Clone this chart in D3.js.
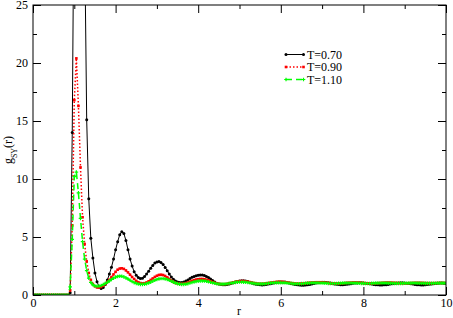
<!DOCTYPE html>
<html>
<head>
<meta charset="utf-8">
<script src="https://cdn.jsdelivr.net/npm/d3@7"></script>
<style>
  body { margin: 0; background: #fff; }
  svg { display: block; font-family: "Liberation Serif", "Times New Roman", serif; }
</style>
</head>
<body>
<svg id="chart" width="453" height="318"></svg>
<script>
// Data: g_SY(r) sampled every 0.05 from r = 0 to r = 10
const rStep = 0.05;

const gT070 = [
  0, 0, 0, 0, 0, 0, 0, 0, 0, 0,
  0, 0, 0, 0, 0, 0, 0, 0, 0.2, 14,
  38, 47, 48, 45, 39, 31, 15.1, 8.3, 4.9, 3.2,
  1.9, 1.15, 0.7, 0.55, 0.65, 0.9, 1.3, 1.8, 2.4, 3.1,
  3.9, 4.6, 5.2, 5.45, 5.3, 4.7, 3.9, 3.1, 2.5, 2.0,
  1.7, 1.5, 1.42, 1.45, 1.6, 1.8, 2.05, 2.3, 2.55, 2.75,
  2.85, 2.88, 2.8, 2.62, 2.38, 2.1, 1.8, 1.55, 1.35, 1.2,
  1.12, 1.08, 1.08, 1.12, 1.2, 1.3, 1.42, 1.52, 1.6, 1.66,
  1.7, 1.72, 1.72, 1.68, 1.6, 1.5, 1.38, 1.25, 1.12, 1.02,
  0.95, 0.9, 0.88, 0.88, 0.9, 0.95, 1.0, 1.06, 1.12, 1.17,
  1.2, 1.22, 1.22, 1.2, 1.16, 1.1, 1.04, 0.98, 0.93, 0.9,
  0.88, 0.87, 0.88, 0.9, 0.94, 0.98, 1.02, 1.06, 1.09, 1.11,
  1.12, 1.12, 1.11, 1.08, 1.04, 1.0, 0.95, 0.91, 0.88, 0.86,
  0.85, 0.85, 0.86, 0.88, 0.91, 0.95, 0.99, 1.03, 1.06, 1.08,
  1.09, 1.09, 1.08, 1.06, 1.03, 0.99, 0.95, 0.92, 0.9, 0.89,
  0.89, 0.9, 0.92, 0.95, 0.98, 1.01, 1.03, 1.04, 1.05, 1.05,
  1.04, 1.02, 1.0, 0.97, 0.94, 0.91, 0.89, 0.88, 0.87, 0.87,
  0.88, 0.89, 0.91, 0.94, 0.97, 1.0, 1.02, 1.04, 1.05, 1.05,
  1.04, 1.02, 1.0, 0.97, 0.94, 0.91, 0.89, 0.88, 0.87, 0.87,
  0.88, 0.9, 0.92, 0.95, 0.98, 1.0, 1.02, 1.03, 1.03, 1.02,
  1.0
];

const gT090 = [
  0, 0, 0, 0, 0, 0, 0, 0, 0, 0,
  0, 0, 0, 0, 0, 0, 0, 0, 0.4, 6,
  16.8, 20.4, 16.3, 11, 6.7, 4.4, 2.9, 1.9, 1.3, 0.95,
  0.75, 0.65, 0.65, 0.7, 0.8, 0.95, 1.12, 1.32, 1.55, 1.78,
  2.0, 2.18, 2.28, 2.3, 2.25, 2.12, 1.95, 1.75, 1.55, 1.38,
  1.22, 1.1, 1.03, 1.0, 1.02, 1.08, 1.18, 1.3, 1.43, 1.56,
  1.66, 1.73, 1.75, 1.72, 1.64, 1.52, 1.38, 1.25, 1.13, 1.04,
  0.99, 0.96, 0.96, 0.98, 1.02, 1.08, 1.15, 1.22, 1.28, 1.33,
  1.36, 1.38, 1.38, 1.36, 1.32, 1.26, 1.19, 1.12, 1.05, 1.0,
  0.96, 0.94, 0.93, 0.94, 0.96, 1.0, 1.04, 1.09, 1.13, 1.17,
  1.19, 1.2, 1.2, 1.18, 1.15, 1.11, 1.07, 1.03, 1.0, 0.98,
  0.97, 0.97, 0.98, 1.0, 1.03, 1.06, 1.09, 1.11, 1.13, 1.14,
  1.14, 1.13, 1.11, 1.09, 1.06, 1.03, 1.01, 0.99, 0.98, 0.98,
  0.99, 1.0, 1.02, 1.04, 1.06, 1.08, 1.09, 1.1, 1.1, 1.1,
  1.09, 1.08, 1.06, 1.04, 1.02, 1.01, 1.0, 0.99, 0.99, 1.0,
  1.01, 1.03, 1.05, 1.06, 1.07, 1.08, 1.08, 1.07, 1.06, 1.05,
  1.04, 1.02, 1.01, 1.0, 1.0, 1.0, 1.01, 1.02, 1.03, 1.05,
  1.06, 1.07, 1.07, 1.07, 1.06, 1.05, 1.04, 1.03, 1.02, 1.01,
  1.01, 1.01, 1.02, 1.03, 1.04, 1.05, 1.05, 1.05, 1.05, 1.04,
  1.03, 1.02, 1.02, 1.02, 1.02, 1.03, 1.03, 1.04, 1.04, 1.04,
  1.03
];

const gT110 = [
  0, 0, 0, 0, 0, 0, 0, 0, 0, 0,
  0, 0, 0, 0, 0, 0, 0, 0, 0.7, 4.8,
  10.2, 10.6, 8.8, 6.6, 4.6, 3.1, 2.1, 1.45, 1.08, 0.88,
  0.78, 0.75, 0.77, 0.82, 0.9, 1.0, 1.1, 1.22, 1.34, 1.45,
  1.54, 1.6, 1.62, 1.61, 1.56, 1.48, 1.38, 1.27, 1.16, 1.07,
  1.0, 0.95, 0.92, 0.92, 0.94, 0.98, 1.04, 1.11, 1.19, 1.27,
  1.34, 1.39, 1.42, 1.42, 1.39, 1.34, 1.27, 1.19, 1.11, 1.04,
  0.98, 0.94, 0.92, 0.92, 0.94, 0.98, 1.03, 1.08, 1.13, 1.17,
  1.2, 1.22, 1.22, 1.21, 1.18, 1.14, 1.1, 1.05, 1.01, 0.97,
  0.95, 0.94, 0.94, 0.95, 0.97, 1.0, 1.03, 1.06, 1.09, 1.11,
  1.12, 1.12, 1.11, 1.1, 1.08, 1.05, 1.02, 1.0, 0.98, 0.96,
  0.96, 0.96, 0.97, 0.99, 1.01, 1.03, 1.05, 1.06, 1.07, 1.07,
  1.07, 1.06, 1.05, 1.03, 1.01, 1.0, 0.98, 0.97, 0.97, 0.97,
  0.98, 0.99, 1.01, 1.02, 1.04, 1.05, 1.05, 1.05, 1.05, 1.04,
  1.03, 1.02, 1.01, 1.0, 0.99, 0.99, 0.99, 0.99, 1.0, 1.01,
  1.02, 1.03, 1.04, 1.04, 1.04, 1.04, 1.03, 1.02, 1.01, 1.0,
  1.0, 0.99, 0.99, 0.99, 1.0, 1.01, 1.02, 1.02, 1.03, 1.03,
  1.03, 1.03, 1.02, 1.02, 1.01, 1.0, 1.0, 1.0, 1.0, 1.0,
  1.01, 1.01, 1.02, 1.02, 1.03, 1.03, 1.02, 1.02, 1.01, 1.01,
  1.0, 1.0, 1.0, 1.0, 1.01, 1.01, 1.02, 1.02, 1.02, 1.02,
  1.01
];

const seriesNames = ["T=0.70", "T=0.90", "T=1.10"];
const xTicks = [0, 2, 4, 6, 8, 10];
const xMinor = [1, 3, 5, 7, 9];
const yTicks = [0, 5, 10, 15, 20, 25];
const yMinor = [2.5, 7.5, 12.5, 17.5, 22.5];

// Layout
const plotLeft = 33, plotRight = 446, plotTop = 5, plotBottom = 295;

const svg = d3.select("#chart");

const x = d3.scaleLinear().domain([0, 10]).range([plotLeft, plotRight]);
const y = d3.scaleLinear().domain([0, 25]).range([plotBottom, plotTop]);

const styles = [
    { color: "#000000", dash: null, width: 1, marker: "circle" },
    { color: "#ff0000", dash: "1.5,2", width: 1.5, marker: "square" },
    { color: "#00ff00", dash: "6,4", width: 1.5, marker: "plus" }
];

const allSeries = [gT070, gT090, gT110].map(vals =>
    vals.map((g, i) => ({ r: i * rStep, g: g }))
);

// clip to the plot frame
svg.append("clipPath").attr("id", "plotClip")
    .append("rect")
    .attr("x", plotLeft).attr("y", plotTop)
    .attr("width", plotRight - plotLeft).attr("height", plotBottom - plotTop);

const line = d3.line().x(d => x(d.r)).y(d => y(d.g));

function drawMarker(g, type, cx, cy, color) {
    if (type === "circle") {
        g.append("circle").attr("cx", cx).attr("cy", cy).attr("r", 1.5).attr("fill", color);
    } else if (type === "square") {
        g.append("rect").attr("x", cx - 1.3).attr("y", cy - 1.3)
            .attr("width", 2.6).attr("height", 2.6).attr("fill", color);
    } else {
        g.append("path")
            .attr("d", `M${cx - 1.8},${cy}H${cx + 1.8}M${cx},${cy - 1.8}V${cy + 1.8}`)
            .attr("stroke", color).attr("stroke-width", 1.2);
    }
}

const plot = svg.append("g").attr("clip-path", "url(#plotClip)");

allSeries.forEach((data, k) => {
    const st = styles[k];
    plot.append("path")
        .datum(data)
        .attr("d", line)
        .attr("fill", "none")
        .attr("stroke", st.color)
        .attr("stroke-width", st.width)
        .attr("stroke-dasharray", st.dash);
    const mg = plot.append("g");
    data.forEach(d => drawMarker(mg, st.marker, x(d.r), y(d.g), st.color));
});

// Axes (ticks pointing inwards, on all four sides)
svg.append("g")
    .attr("transform", `translate(0,${plotBottom})`)
    .call(d3.axisBottom(x).tickValues(xTicks).tickSize(-8).tickPadding(3).tickFormat(d3.format("d")));
svg.append("g")
    .attr("transform", `translate(0,${plotBottom})`)
    .call(d3.axisBottom(x).tickValues(xMinor).tickSize(-4).tickFormat(""));
svg.append("g")
    .attr("transform", `translate(0,${plotTop})`)
    .call(d3.axisTop(x).tickValues(xTicks).tickSize(-8).tickFormat(""));
svg.append("g")
    .attr("transform", `translate(0,${plotTop})`)
    .call(d3.axisTop(x).tickValues(xMinor).tickSize(-4).tickFormat(""));

svg.append("g")
    .attr("transform", `translate(${plotLeft},0)`)
    .call(d3.axisLeft(y).tickValues(yTicks).tickSize(-8).tickPadding(5).tickFormat(d3.format("d")));
svg.append("g")
    .attr("transform", `translate(${plotLeft},0)`)
    .call(d3.axisLeft(y).tickValues(yMinor).tickSize(-4).tickFormat(""));
svg.append("g")
    .attr("transform", `translate(${plotRight},0)`)
    .call(d3.axisRight(y).tickValues(yTicks).tickSize(-8).tickFormat(""));
svg.append("g")
    .attr("transform", `translate(${plotRight},0)`)
    .call(d3.axisRight(y).tickValues(yMinor).tickSize(-4).tickFormat(""));

svg.selectAll(".domain").remove();
svg.selectAll(".tick line").attr("stroke", "#000");
svg.selectAll(".tick text")
    .attr("fill", "#000")
    .style("font-family", "Liberation Serif, serif")
    .style("font-size", "12px");

// frame
svg.append("rect")
    .attr("x", plotLeft).attr("y", plotTop)
    .attr("width", plotRight - plotLeft).attr("height", plotBottom - plotTop)
    .attr("fill", "none").attr("stroke", "#000").attr("stroke-width", 1);

// axis labels
svg.append("text")
    .attr("x", 239).attr("y", 315)
    .attr("text-anchor", "middle")
    .style("font-size", "12px")
    .text("r");

const yl = svg.append("text")
    .attr("transform", "translate(12,150) rotate(-90)")
    .attr("text-anchor", "middle")
    .style("font-size", "12px");
yl.append("tspan").text("g");
yl.append("tspan").attr("baseline-shift", "sub").style("font-size", "8px").text("SY");
yl.append("tspan").text("(r)");

// legend
const legend = svg.append("g");
const legendY = [54.5, 67, 79.5];
seriesNames.forEach((name, k) => {
    const st = styles[k];
    const ly = legendY[k];
    legend.append("line")
        .attr("x1", 286).attr("x2", 303.5)
        .attr("y1", ly).attr("y2", ly)
        .attr("stroke", st.color)
        .attr("stroke-width", st.width)
        .attr("stroke-dasharray", st.dash);
    drawMarker(legend, st.marker, 286, ly, st.color);
    drawMarker(legend, st.marker, 303.5, ly, st.color);
    legend.append("text")
        .attr("x", 307).attr("y", ly + 4)
        .style("font-size", "12px")
        .text(name);
});
</script>
</body>
</html>
